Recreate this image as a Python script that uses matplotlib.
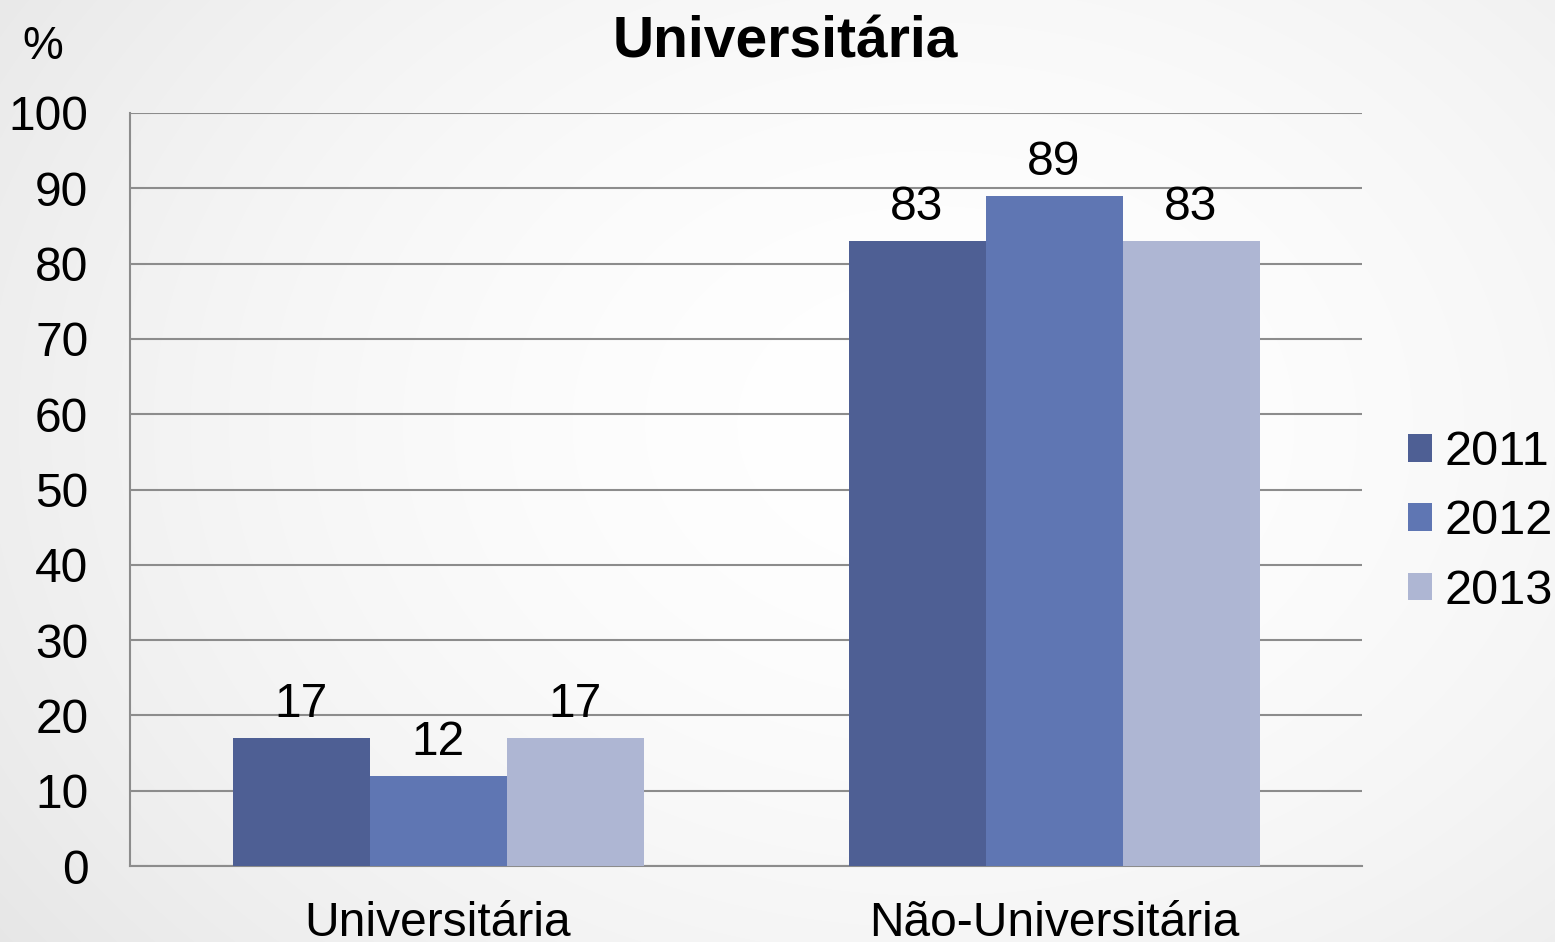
import numpy as np
import matplotlib
matplotlib.use("Agg")
import matplotlib.pyplot as plt
from matplotlib.patches import Patch

categories = ["Universitária", "Não-Universitária"]
years = ["2011", "2012", "2013"]
values_2011 = [17, 83]
values_2012 = [12, 89]
values_2013 = [17, 83]
series = [values_2011, values_2012, values_2013]
colors = ["#4E5F94", "#5F76B3", "#AEB6D3"]
yticks = [0, 10, 20, 30, 40, 50, 60, 70, 80, 90, 100]

plt.rcParams['font.family'] = ['Liberation Sans', 'DejaVu Sans']

W, H = 1555, 942
fig = plt.figure(figsize=(W / 100, H / 100), dpi=100)

# radial gradient background
bg = fig.add_axes([0, 0, 1, 1], zorder=-10)
yy, xx = np.mgrid[0:H, 0:W]
r = np.sqrt(((xx - W * 0.6) / (W * 0.6)) ** 2 + ((yy - H * 0.45) / (H * 0.75)) ** 2)
g = 1.0 - 0.065 * np.clip(r, 0, 1.4) ** 1.8
bg.imshow(np.dstack([g, g, g]), aspect='auto', extent=[0, 1, 0, 1])
bg.axis('off')

left, right, top, bottom = 130, 1362, 113, 866
ax = fig.add_axes([left / W, 1 - bottom / H, (right - left) / W, (bottom - top) / H])
ax.patch.set_alpha(0)

n = len(series)
width = 137 / 616
x = np.arange(len(categories))
for i, (vals, col) in enumerate(zip(series, colors)):
    pos = x + (i - (n - 1) / 2) * width
    bars = ax.bar(pos, vals, width=width, color=col, zorder=3, label=years[i])
    for b, v in zip(bars, vals):
        ax.annotate(str(v), (b.get_x() + b.get_width() / 2, v), xytext=(0, 8),
                    textcoords='offset points', ha='center', va='bottom',
                    fontsize=34.5, color='black', zorder=4)

ax.set_xlim(-0.5, 1.5)
ax.set_ylim(0, 100)
ax.set_yticks(yticks)
ax.set_yticklabels([str(t) for t in yticks])
ax.set_xticks(x)
ax.set_xticklabels(categories)
ax.tick_params(axis='y', length=0, pad=30, labelsize=34.5)
ax.tick_params(axis='x', length=0, pad=25, labelsize=34.5)
ax.yaxis.grid(True, color='#8C8C8C', linewidth=1.5, zorder=0)
ax.set_axisbelow(True)
for s in ['top', 'right']:
    ax.spines[s].set_visible(False)
ax.spines['left'].set_color('#8C8C8C')
ax.spines['left'].set_linewidth(1.5)
ax.spines['bottom'].set_color('#8C8C8C')
ax.spines['bottom'].set_linewidth(1.5)

fig.text(785 / W, 1 - 58 / H, "Universitária", ha='center', va='baseline',
         fontsize=41, fontweight='bold')
fig.text(43 / W, 1 - 59 / H, "%", ha='center', va='baseline', fontsize=33)

handles = [Patch(facecolor=c, edgecolor='none') for c in colors]
fig.legend(handles, years, loc='center left', bbox_to_anchor=(1408 / W, 1 - 522 / H),
           frameon=False, fontsize=35, handlelength=0.5, handleheight=0.5,
           handletextpad=0.26, labelspacing=0.5, borderpad=0, borderaxespad=0)

fig.savefig("out.png", dpi=100)
